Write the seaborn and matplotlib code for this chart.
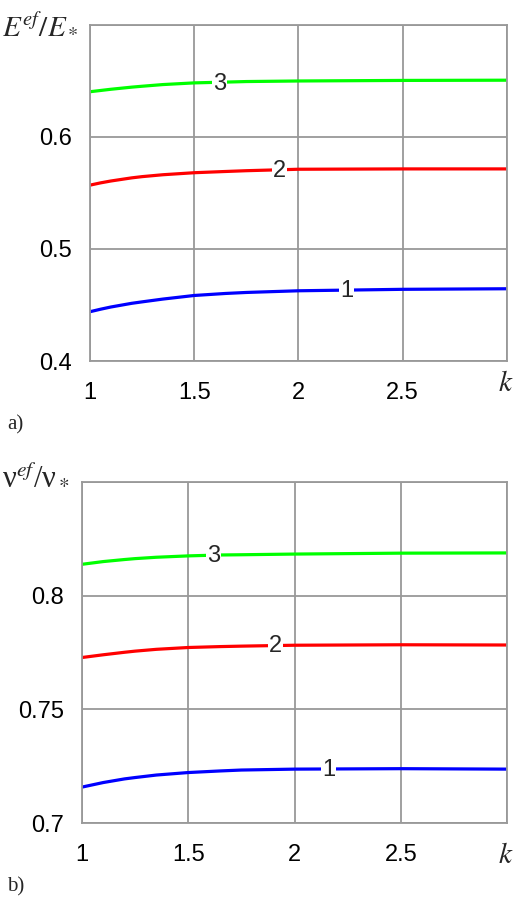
import matplotlib
matplotlib.use("Agg")
import matplotlib.pyplot as plt
import seaborn as sns
import pandas as pd

# ---- data ----
k_vals = [1.0, 1.05, 1.1, 1.2, 1.25, 1.35, 1.5, 1.65, 1.75, 2.0, 2.5, 3.0]

E_curve1 = [0.4440, 0.4462, 0.4482, 0.4515, 0.4528, 0.4553, 0.4585, 0.4603, 0.4612, 0.4627, 0.4640, 0.4645]
E_curve2 = [0.5570, 0.5590, 0.5607, 0.5635, 0.5646, 0.5663, 0.5681, 0.5692, 0.5699, 0.5712, 0.5715, 0.5715]
E_curve3 = [0.6404, 0.6415, 0.6426, 0.6445, 0.6453, 0.6468, 0.6483, 0.6490, 0.6495, 0.6500, 0.6505, 0.6507]

nu_curve1 = [0.7158, 0.7168, 0.7178, 0.7194, 0.7200, 0.7211, 0.7222, 0.7229, 0.7233, 0.7237, 0.7239, 0.7237]
nu_curve2 = [0.7728, 0.7734, 0.7740, 0.7751, 0.7756, 0.7764, 0.7772, 0.7776, 0.7778, 0.7782, 0.7784, 0.7783]
nu_curve3 = [0.8138, 0.8144, 0.8150, 0.8159, 0.8163, 0.8169, 0.8175, 0.8179, 0.8180, 0.8183, 0.8187, 0.8188]

curve_names = ["1", "2", "3"]
curve_colors = ["#0000FF", "#FF0000", "#00FF00"]

# label positions (k, value) for inline curve numbers
E_label_k = [2.23, 1.91, 1.62]
E_label_v = [0.4625, 0.5698, 0.6476]
nu_label_k = [2.16, 1.91, 1.62]
nu_label_v = [0.7235, 0.7778, 0.8173]

E_yticks = [0.4, 0.5, 0.6]
nu_yticks = [0.7, 0.75, 0.8]
xticks = [1, 1.5, 2, 2.5]


def long_df(series):
    rows = []
    for name, vals in zip(curve_names, series):
        for k, v in zip(k_vals, vals):
            rows.append({"k": k, "val": v, "curve": name})
    return pd.DataFrame(rows)


sns.set_style("white")
plt.rcParams["font.family"] = ["Liberation Sans", "DejaVu Sans"]
plt.rcParams["mathtext.fontset"] = "stix"

fig = plt.figure(figsize=(5.2, 9.05), dpi=100)
ax1 = fig.add_axes([0.173, 0.6011, 0.802, 0.3713])
ax2 = fig.add_axes([0.1577, 0.0906, 0.8173, 0.3768])

grid_col = "#999999"


def style_axes(ax, ylim, yticks, yfmt):
    ax.set_xlim(1, 3)
    ax.set_ylim(*ylim)
    ax.set_xticks(xticks + [3])
    ax.set_xticklabels([str(t) if t != int(t) else str(int(t)) for t in xticks] + [""])
    ax.set_yticks(list(yticks) + [ylim[1]])
    ax.set_yticklabels([yfmt(t) for t in yticks] + [""])
    ax.grid(True, color=grid_col, linewidth=1.3)
    for s in ax.spines.values():
        s.set_color(grid_col)
        s.set_linewidth(1.3)
    ax.tick_params(axis="both", length=0, labelsize=17, colors="black")
    ax.tick_params(axis="y", pad=13)
    ax.tick_params(axis="x", pad=15)
    ax.set_xlabel("")
    ax.set_ylabel("")


def draw(ax, series, lab_k, lab_v):
    df = long_df(series)
    sns.lineplot(data=df, x="k", y="val", hue="curve", palette=curve_colors,
                 hue_order=curve_names, linewidth=2.3, ax=ax, legend=False)
    for name, kk, vv in zip(curve_names, lab_k, lab_v):
        ax.text(kk, vv, name, fontsize=17, ha="center", va="center",
                family=["Liberation Sans Narrow", "Liberation Sans"],
                bbox=dict(facecolor="white", edgecolor="none", pad=0.5), zorder=5)


draw(ax1, [E_curve1, E_curve2, E_curve3], E_label_k, E_label_v)
style_axes(ax1, (0.4, 0.7), E_yticks, lambda t: f"{t:.1f}")

draw(ax2, [nu_curve1, nu_curve2, nu_curve3], nu_label_k, nu_label_v)
style_axes(ax2, (0.7, 0.85), nu_yticks, lambda t: f"{t:g}")

# axis labels
fig.text(0.004, 0.972, r"$E^{ef}/E_*$", fontsize=21, ha="left", va="center")
fig.text(0.004, 0.474, "ν$^{ef}$/ν$_*$", fontsize=22,
         family=["Liberation Serif", "DejaVu Serif"], ha="left", va="center")
fig.text(0.972, 0.577, r"$k$", fontsize=21, ha="center", va="center")
fig.text(0.972, 0.055, r"$k$", fontsize=21, ha="center", va="center")
fig.text(0.014, 0.530, "a)", fontsize=15, family=["Liberation Serif", "DejaVu Serif"],
         ha="left", va="center")
fig.text(0.014, 0.020, "b)", fontsize=15, family=["Liberation Serif", "DejaVu Serif"],
         ha="left", va="center")

fig.savefig("out.png", dpi=100)
